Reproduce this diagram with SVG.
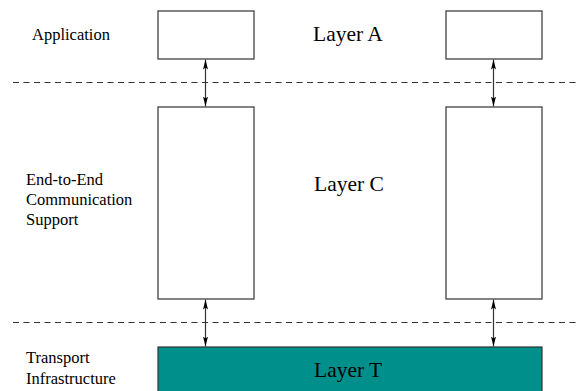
<svg xmlns="http://www.w3.org/2000/svg" width="576" height="391" viewBox="0 0 576 391">
  <defs>
    <marker id="head" viewBox="0 0 10 5" refX="10" refY="2.5" markerWidth="10" markerHeight="5" markerUnits="userSpaceOnUse" orient="auto-start-reverse">
      <path d="M0,0 L10,2.5 L0,5 L2,2.5 Z" fill="#000"/>
    </marker>
  </defs>
  <style>
    .box { fill: #fff; stroke: #333; stroke-width: 1.2; }
    .teal { fill: #008f8a; stroke: #333; stroke-width: 1.2; }
    .dash { stroke: #333; stroke-width: 1; stroke-dasharray: 6 4.5; fill: none; }
    .link { stroke: #333; stroke-width: 1.2; fill: none; marker-start: url(#head); marker-end: url(#head); }
    .lbl { font-family: "Liberation Serif", "Times New Roman", serif; font-size: 16.5px; fill: #000; }
    .big { font-family: "Liberation Serif", "Times New Roman", serif; font-size: 21.5px; fill: #000; }
  </style>
  <rect width="576" height="391" fill="#fff"/>

  <!-- layer separators -->
  <line class="dash" x1="13" y1="82.5" x2="576" y2="82.5"/>
  <line class="dash" x1="13" y1="322.5" x2="576" y2="322.5"/>

  <!-- side labels -->
  <text class="lbl" x="32" y="40">Application</text>
  <text class="lbl" x="26" y="185">End-to-End</text>
  <text class="lbl" x="26" y="205">Communication</text>
  <text class="lbl" x="26" y="225">Support</text>
  <text class="lbl" x="26" y="363">Transport</text>
  <text class="lbl" x="26" y="384">Infrastructure</text>

  <g id="app-left"><rect class="box" x="158" y="11" width="96" height="48"/></g>
  <g id="app-right"><rect class="box" x="446" y="11" width="96" height="48"/></g>
  <g id="layer-a"><text class="big" x="313" y="41">Layer A</text></g>

  <g id="e2e-left"><rect class="box" x="158" y="107" width="96" height="192"/></g>
  <g id="e2e-right"><rect class="box" x="446" y="107" width="96" height="192"/></g>
  <g id="layer-c"><text class="big" x="314" y="191">Layer C</text></g>

  <g id="layer-t">
    <rect class="teal" x="158" y="347" width="384" height="50"/>
    <text class="big" x="314" y="377">Layer T</text>
  </g>

  <g id="connectors">
    <line class="link" x1="205.5" y1="59.5" x2="205.5" y2="106.5"/>
    <line class="link" x1="493.5" y1="59.5" x2="493.5" y2="106.5"/>
    <line class="link" x1="205.5" y1="299.5" x2="205.5" y2="346.5"/>
    <line class="link" x1="493.5" y1="299.5" x2="493.5" y2="346.5"/>
  </g>
</svg>
